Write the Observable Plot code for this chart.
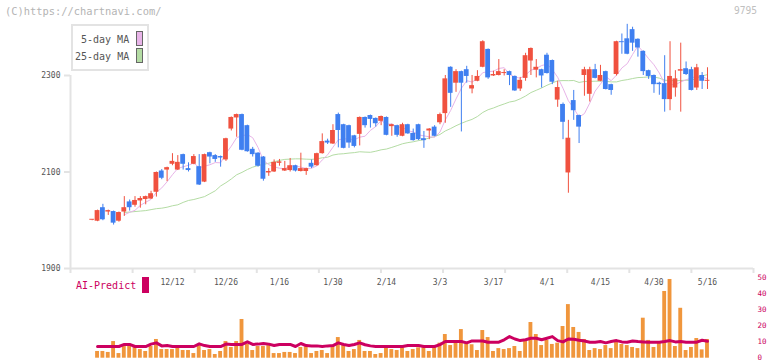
<!DOCTYPE html>
<html><head><meta charset="utf-8">
<script src="https://cdn.jsdelivr.net/npm/d3@7"></script>
<script src="https://cdn.jsdelivr.net/npm/@observablehq/plot@0.6"></script>
<style>
body{margin:0;background:#fff;}
#wrap{position:relative;width:772px;height:361px;overflow:hidden;background:#fff;}
#wrap svg{position:absolute;left:0;top:0;}
.t{position:absolute;font-family:"DejaVu Sans Mono",monospace;white-space:pre;line-height:1;}
</style></head><body>
<div id="wrap"></div>
<script>
// ---- data (index 0 = 2024-11-21 ... index 115 = 2025-05-16) ----
const opens  = [2000,1998,2026,2017,2018,1998,2017,2038,2031,2040,2043,2044,2058,2102,2104,2116,2104,2136,2107,2116,
                2111,2079,2140,2134,2132,2125,2189,2212,2219,2196,2147,2139,2131,2098,2100,2118,2102,2103,2113,2101,
                2101,2118,2113,2138,2164,2158,2219,2198,2196,2175,2178,2213,2217,2211,2205,2213,2194,2196,2174,2198,
                2180,2198,2169,2185,2193,2202,2221,2317,2284,2308,2312,2272,2288,2317,2354,2299,2300,2304,2308,2298,
                2272,2294,2330,2311,2312,2342,2331,2249,2240,2098,2248,2217,2300,2261,2312,2288,2308,2281,2302,2370,
                2376,2395,2375,2350,2310,2300,2284,2283,2250,2274,2309,2314,2312,2274,2300,2288];
const highs  = [2001,2021,2033,2021,2019,2017,2049,2042,2049,2049,2050,2060,2100,2105,2110,2138,2134,2137,2119,2136,
                2136,2137,2141,2136,2133,2170,2214,2220,2220,2197,2151,2140,2132,2107,2125,2126,2122,2128,2114,2139,
                2108,2125,2139,2179,2168,2198,2222,2199,2197,2176,2214,2214,2218,2212,2216,2214,2199,2197,2201,2199,
                2189,2199,2184,2190,2196,2222,2300,2318,2312,2309,2319,2300,2310,2372,2355,2309,2333,2312,2309,2299,
                2296,2346,2357,2333,2313,2346,2332,2288,2243,2207,2269,2218,2317,2317,2323,2321,2309,2282,2371,2386,
                2406,2400,2376,2351,2311,2301,2286,2341,2370,2310,2367,2328,2317,2323,2306,2316];
const lows   = [1999,1997,1999,2010,1990,1996,2008,2019,2027,2025,2032,2043,2048,2084,2080,2113,2103,2104,2100,2115,
                2072,2078,2117,2120,2110,2122,2185,2172,2144,2141,2131,2110,2081,2091,2099,2112,2101,2100,2100,2100,
                2093,2107,2112,2137,2157,2157,2150,2148,2149,2150,2154,2191,2191,2193,2196,2175,2174,2172,2173,2178,
                2164,2165,2149,2167,2173,2198,2201,2234,2265,2183,2284,2262,2287,2316,2292,2298,2299,2299,2279,2267,
                2267,2288,2300,2295,2274,2303,2281,2234,2167,2056,2207,2159,2257,2245,2293,2287,2270,2259,2299,2344,
                2343,2350,2338,2300,2292,2263,2259,2224,2227,2255,2224,2300,2268,2269,2271,2271];
const closes = [2000,2020,2001,2020,1994,2016,2026,2026,2041,2045,2049,2055,2099,2087,2109,2122,2120,2116,2103,2132,
                2073,2136,2131,2126,2129,2169,2213,2219,2145,2142,2136,2112,2085,2101,2120,2121,2107,2113,2102,2107,
                2107,2110,2138,2163,2160,2186,2186,2149,2160,2153,2213,2196,2209,2200,2215,2176,2198,2176,2198,2179,
                2165,2167,2165,2189,2174,2219,2293,2263,2308,2284,2298,2279,2298,2370,2295,2302,2308,2306,2300,2268,
                2290,2341,2356,2317,2299,2304,2286,2275,2203,2170,2227,2193,2312,2312,2294,2300,2271,2269,2370,2368,
                2344,2367,2357,2308,2298,2281,2281,2250,2298,2293,2312,2302,2269,2316,2288,2290];
// 25-day MA for the days before 25 visible closes exist (index 6..23)
const ma25Early = [2016,2017,2018,2019,2020,2022,2024,2025,2027,2030,2032,2037,2041,2043,2046,2049,2055,2061];
// volume (no bar on index 0)
const volumes = [null,4.2,4.2,3.6,10.4,2.9,7.9,8.6,6.7,5.4,4.2,7.3,11.7,5.4,5.4,5.4,6.7,4.8,4.8,2.9,
                 7.9,4.8,5.4,2.3,4.2,10.4,6.7,10.4,24.2,8.6,4.8,7.3,7.3,8.6,2.9,2.9,3.6,3.6,2.9,6.7,
                 7.3,2.9,4.2,4.8,2.9,7.9,12.9,8.6,4.2,5.4,11.1,4.2,4.2,2.3,2.9,7.3,5.4,4.8,6.5,4.2,
                 5.4,6.5,7.0,4.2,6.5,9.4,14.8,7.9,10.4,17.9,9.2,8.4,4.8,17.3,12.9,4.2,6.0,5.4,6.0,7.3,
                 4.2,10.4,22.3,14.8,7.9,11.1,8.6,9.4,19.8,33.5,19.2,16.1,11.7,4.8,6.0,5.4,7.9,6.0,10.4,8.6,
                 7.9,6.7,6.0,25.0,11.1,6.7,9.2,41.7,49.2,7.3,31.2,4.8,6.7,12.3,5.2,11.7];
const aiPredict = [null,7.3,7.3,7.3,7.3,7.3,8.6,8.6,7.3,7.3,7.3,8.8,9.6,7.7,7.9,7.3,7.3,7.3,7.3,7.3,
                   9.0,7.9,7.3,7.3,7.3,8.8,8.6,8.6,8.6,10.2,8.6,8.8,9.2,8.8,7.9,8.6,8.6,8.6,7.3,9.2,
                   7.9,7.7,7.7,7.3,7.7,7.9,9.6,8.6,7.9,8.6,9.6,8.4,7.7,7.3,7.3,7.3,7.3,7.3,7.3,7.9,
                   7.9,7.9,7.3,7.3,7.3,8.5,10.4,10.4,10.4,10.4,9.6,10.8,10.8,10.8,10.0,10.0,10.0,11.5,13.5,12.0,
                   11.0,11.5,12.5,12.5,11.5,12.5,13.5,11.0,10.2,12.0,11.8,11.2,10.8,10.0,10.0,10.4,9.6,10.4,11.0,10.2,
                   10.0,10.8,10.4,10.2,10.0,10.0,10.0,10.4,11.0,10.2,10.4,10.0,10.0,10.0,11.2,10.6];
const dateLabels   = ["12/12","12/26","1/16","1/30","2/14","3/3","3/17","4/1","4/15","4/30","5/16"];
const dateLabelIdx = [15,25,35,45,55,65,75,85,95,105,115];
const priceTicks = [1900,2100,2300];
const volumeTicks = [0,10,20,30,40,50];
const maNames = ["5-day MA","25-day MA"];

// ---- build ----
const W = 772, H = 361;
const xDomain = [-4.056, 123.6];
const gridTicks = d3.range(12).map(k => xDomain[0] + k * (xDomain[1] - xDomain[0]) / 11);
const UP = "#f0513f", DOWN = "#3f7ff0";
const candles = opens.map((o, i) => ({i, open: o, high: highs[i], low: lows[i], close: closes[i], color: closes[i] >= o ? UP : DOWN}));
const ma5 = [], ma25 = [];
closes.forEach((c, i) => {
  if (i >= 6) ma5.push({i, v: d3.mean(closes.slice(i - 4, i + 1))});
  if (i >= 6 && i < 24) ma25.push({i, v: ma25Early[i - 6]});
  if (i >= 24) ma25.push({i, v: d3.mean(closes.slice(i - 24, i + 1))});
});
const labelMap = new Map(dateLabelIdx.map((d, k) => [d, dateLabels[k]]));
const mono = "DejaVu Sans Mono";

const main = Plot.plot({
  width: W, height: H, marginLeft: 70, marginRight: 19, marginTop: 0, marginBottom: 93,
  x: {domain: xDomain, axis: null},
  y: {domain: [1900, 2455.4], axis: null},
  style: {background: "transparent", fontFamily: mono, overflow: "visible"},
  marks: [
    Plot.ruleX([xDomain[0]], {y1: 1900, y2: 2300, stroke: "#e3e3e3", strokeWidth: 2}),
    Plot.ruleY([1900], {x1: xDomain[0], x2: xDomain[1], stroke: "#e3e3e3", strokeWidth: 2}),
    Plot.axisY({ticks: priceTicks, label: null, tickSize: 6, tickPadding: 4, stroke: "#e3e3e3", strokeWidth: 2, fill: "#555", fontSize: 8, tickFormat: d => String(d)}),
    Plot.axisX({ticks: gridTicks, label: null, tickSize: 5, stroke: "#e3e3e3", strokeWidth: 2, tickFormat: () => ""}),
    Plot.axisX({ticks: dateLabelIdx, label: null, tickSize: 0, tickPadding: 11, fill: "#555", fontSize: 8, tickFormat: d => labelMap.get(d)}),
    Plot.line(ma25, {x: "i", y: "v", stroke: "#b4dca4", strokeWidth: 1}),
    Plot.line(ma5, {x: "i", y: "v", stroke: "#e8b4e8", strokeWidth: 1}),
    Plot.ruleX(candles, {x: "i", y1: "low", y2: "high", stroke: "color", strokeWidth: 1}),
    Plot.rect(candles, {x1: d => d.i - 0.45, x2: d => d.i + 0.45,
      y1: "open", y2: d => d.close === d.open ? d.close + 2 : d.close, fill: "color"})
  ]
});

const volData = volumes.map((v, i) => ({i, v})).filter(d => d.v != null);
const aiData = aiPredict.map((v, i) => ({i, v})).filter(d => d.v != null);
const vol = Plot.plot({
  width: W, height: H, marginLeft: 70, marginRight: 19, marginTop: 277.7, marginBottom: 3.3,
  x: {domain: xDomain, axis: null},
  y: {domain: [0, 50], axis: null},
  style: {background: "transparent", fontFamily: mono, overflow: "visible"},
  marks: [
    Plot.rectY(volData, {x1: d => d.i - 0.36, x2: d => d.i + 0.36, y: "v", fill: "#f0963c"}),
    Plot.line(aiData, {x: "i", y: "v", stroke: "#cc0060", strokeWidth: 3}),
    Plot.axisY({anchor: "right", label: null, ticks: volumeTicks, tickSize: 0, tickPadding: 4, dy: -1, fill: "#cc0060", fontSize: 7.5, tickFormat: d => String(d)})
  ]
});

const wrap = document.getElementById("wrap");
wrap.appendChild(main);
wrap.appendChild(vol);

function addText(txt, x, y, size, color, extra) {
  const s = document.createElement("div");
  s.className = "t"; s.textContent = txt;
  s.style.left = x + "px"; s.style.top = y + "px"; s.style.fontSize = size + "px"; s.style.color = color;
  if (extra) Object.assign(s.style, extra);
  wrap.appendChild(s); return s;
}
function addBox(x, y, w, h, fill, border) {
  const b = document.createElement("div");
  Object.assign(b.style, {position: "absolute", left: x + "px", top: y + "px", width: w + "px", height: h + "px",
    background: fill, border: border || "none", boxSizing: "border-box"});
  wrap.appendChild(b); return b;
}
addText("(C)https://chartnavi.com/", 5, 6, 10.4, "#b4b4b4");
addText("9795", 734, 6, 9.6, "#c0c0c0");
// legend
addBox(71, 24, 78, 47, "#fff", "2px solid #e3e3e3");
addText(maNames[0], 81, 35, 10, "#555");
addText(maNames[1], 75, 52, 10, "#555");
addBox(136, 31, 7, 15, "#e8b4e8", "1px solid #666");
addBox(136, 48, 7, 15, "#b4dca4", "1px solid #666");
// AI-Predict legend
addText("AI-Predict", 76, 281, 10, "#cc0060");
addBox(142, 277, 7, 16, "#cc0060");
</script>
</body></html>
